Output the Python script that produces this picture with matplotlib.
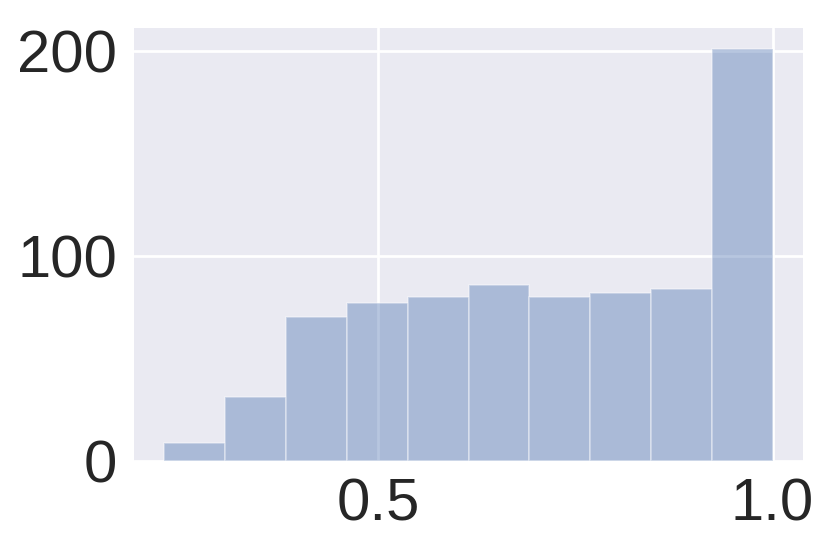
import numpy as np
import matplotlib
matplotlib.use("Agg")
import matplotlib.pyplot as plt
import seaborn as sns

# histogram counts, 10 equal bins
counts = [9, 31, 70, 77, 80, 86, 80, 82, 84, 201]
bin_lo = 0.229
bin_hi = 1.0
xticks = [0.5, 1.0]
yticks = [0, 100, 200]

sns.set_style("darkgrid")
plt.rcParams["font.family"] = ["Liberation Sans", "DejaVu Sans"]

edges = np.linspace(bin_lo, bin_hi, len(counts) + 1)
centers = (edges[:-1] + edges[1:]) / 2

fig = plt.figure(figsize=(8.31, 5.51), dpi=100)
ax = fig.add_axes([0.1613, 0.1633, 0.9663 - 0.1613, 0.9492 - 0.1633])
ax.hist(centers, bins=edges, weights=counts, color="#4c72b0", alpha=0.4,
        edgecolor="white", linewidth=1.2)
ax.grid(True, color="white", linewidth=2)
ax.set_xticks(xticks)
ax.set_yticks(yticks)
ax.set_xticklabels(["0.5", "1.0"])
ax.tick_params(axis="both", labelsize=43, pad=12, length=0, colors="#262626")
for s in ax.spines.values():
    s.set_visible(False)

fig.savefig("out.png", dpi=100)
